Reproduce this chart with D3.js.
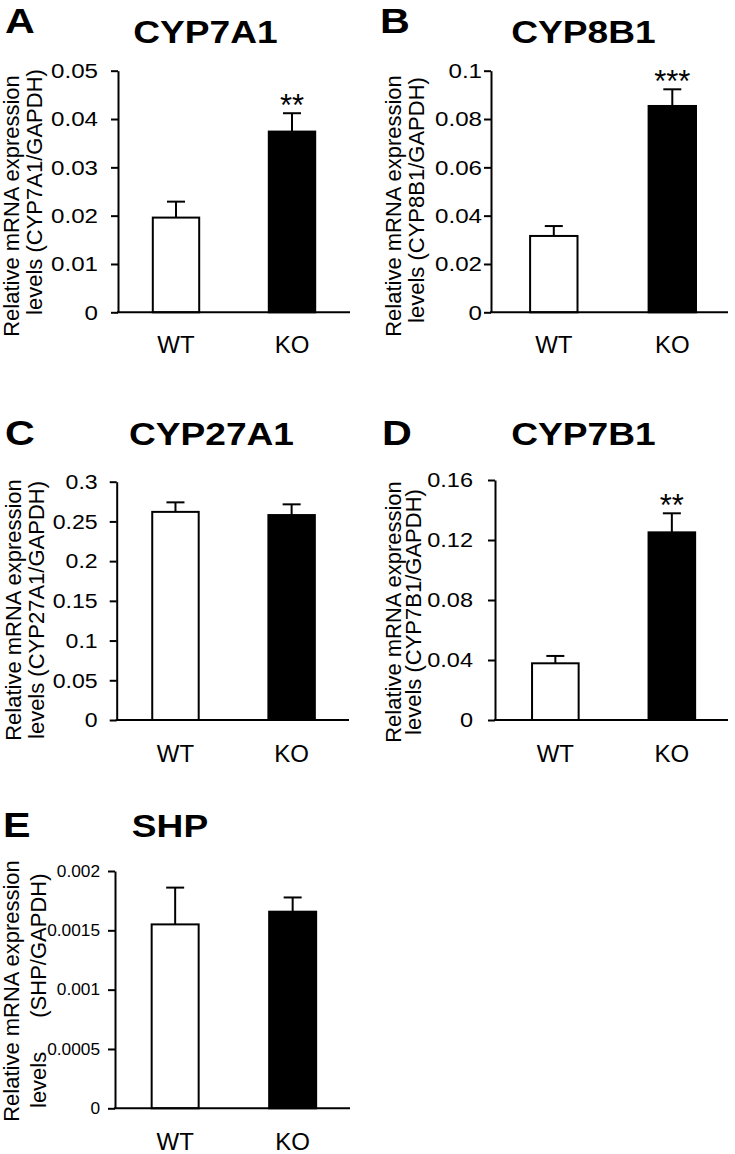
<!DOCTYPE html>
<html><head><meta charset="utf-8">
<script src="https://cdn.jsdelivr.net/npm/d3@7"></script>
<style>
body{margin:0;background:#fff}
svg{display:block}
text{font-family:"Liberation Sans",Arial,Helvetica,sans-serif;fill:#000}
</style>
</head><body>
<svg id="chart" width="735" height="1154"></svg>
<script>
// ---------------- DATA ----------------
const groups = ["WT", "KO"];
const genes = ["CYP7A1", "CYP8B1", "CYP27A1", "CYP7B1", "SHP"];
const panelLetters = ["A", "B", "C", "D", "E"];

const meanCYP7A1 = [0.0196, 0.0374];
const errCYP7A1  = [0.0033, 0.0038];
const sigCYP7A1  = ["", "**"];
const ticksCYP7A1 = [0, 0.01, 0.02, 0.03, 0.04, 0.05];

const meanCYP8B1 = [0.0316, 0.0854];
const errCYP8B1  = [0.0041, 0.0069];
const sigCYP8B1  = ["", "***"];
const ticksCYP8B1 = [0, 0.02, 0.04, 0.06, 0.08, 0.1];

const meanCYP27A1 = [0.262, 0.258];
const errCYP27A1  = [0.012, 0.0135];
const sigCYP27A1  = ["", ""];
const ticksCYP27A1 = [0, 0.05, 0.1, 0.15, 0.2, 0.25, 0.3];

const meanCYP7B1 = [0.0378, 0.1251];
const errCYP7B1  = [0.0049, 0.0127];
const sigCYP7B1  = ["", "**"];
const ticksCYP7B1 = [0, 0.04, 0.08, 0.12, 0.16];

const meanSHP = [0.00155, 0.001657];
const errSHP  = [0.00031, 0.00012];
const sigSHP  = ["", ""];
const ticksSHP = [0, 0.0005, 0.001, 0.0015, 0.002];

const yLabelLine1 = "Relative mRNA expression";
const yLabelLine2 = [
  ["levels (CYP7A1/GAPDH)"],
  ["levels (CYP8B1/GAPDH)"],
  ["levels (CYP27A1/GAPDH)"],
  ["levels (CYP7B1/GAPDH)"],
  ["levels", "(SHP/GAPDH)"]
];

const means = [meanCYP7A1, meanCYP8B1, meanCYP27A1, meanCYP7B1, meanSHP];
const errs  = [errCYP7A1, errCYP8B1, errCYP27A1, errCYP7B1, errSHP];
const sigs  = [sigCYP7A1, sigCYP8B1, sigCYP27A1, sigCYP7B1, sigSHP];
const ticks = [ticksCYP7A1, ticksCYP8B1, ticksCYP27A1, ticksCYP7B1, ticksSHP];

// ---------------- LAYOUT ----------------
const layout = [
  {axisX:118, axisRight:350, yTop:70.7, y0:312.3, align:0.5,  pad:13, tickFont:21, tickSx:1.15,
   letterX:5, letterY:33, titleX:205.5, titleY:43, xLabelY:353,
   yl1:[19,206], yl2:[41.5,192]},
  {axisX:491, axisRight:728, yTop:70.7, y0:312.3, align:0.55, pad:2, tickFont:21, tickSx:1.15,
   letterX:380, letterY:33, titleX:583.5, titleY:43, xLabelY:353,
   yl1:[401,206], yl2:[424,200]},
  {axisX:116.7, axisRight:349, yTop:481.7, y0:720, align:0.51, pad:12, tickFont:21, tickSx:1.1,
   letterX:5, letterY:445, titleX:211.5, titleY:445, xLabelY:762,
   yl1:[21,610], yl2:[44,610]},
  {axisX:495, axisRight:728, yTop:480, y0:720, align:0.53, pad:15, tickFont:21, tickSx:1.12,
   letterX:382, letterY:445, titleX:583.5, titleY:445, xLabelY:762,
   yl1:[401,612], yl2:[421,612]},
  {axisX:115, axisRight:350, yTop:871, y0:1108.3, align:0.52, pad:8, tickFont:16, tickSx:1.08,
   letterX:3, letterY:837, titleX:170, titleY:837, xLabelY:1150,
   yl1:[19,991], yl2:[46,1108], yl2Gap:34}
];

const svg = d3.select("#chart");
const TICK = 7;

genes.forEach((gene, p) => {
  const L = layout[p];
  const g = svg.append("g");
  const tv = ticks[p];
  const y = d3.scaleLinear().domain([0, tv[tv.length - 1]]).range([L.y0, L.yTop]);
  const x = d3.scaleBand().domain(groups).range([L.axisX, L.axisRight])
    .paddingInner(0.6).paddingOuter(0.3).align(L.align);
  const rows = groups.map((grp, i) => ({group: grp, mean: means[p][i], err: errs[p][i], sig: sigs[p][i], i}));

  // panel letter
  g.append("text")
    .attr("transform", `translate(${L.letterX},${L.letterY}) scale(1.18,1)`)
    .attr("font-size", 35).attr("font-weight", "bold").text(panelLetters[p]);
  // title
  g.append("text")
    .attr("transform", `translate(${L.titleX},${L.titleY}) scale(1.16,1)`)
    .attr("text-anchor", "middle").attr("font-size", 32).attr("font-weight", "bold").text(gene);

  // bars
  g.selectAll("rect.bar").data(rows).join("rect").attr("class", "bar")
    .attr("x", d => x(d.group)).attr("y", d => y(d.mean))
    .attr("width", x.bandwidth()).attr("height", d => y(0) - y(d.mean))
    .attr("fill", d => d.i === 0 ? "#fff" : "#000")
    .attr("stroke", "#000").attr("stroke-width", 2);

  // error bars (upper)
  const cx = d => x(d.group) + x.bandwidth() / 2;
  g.selectAll("line.err").data(rows).join("line").attr("class", "err")
    .attr("x1", cx).attr("x2", cx)
    .attr("y1", d => y(d.mean)).attr("y2", d => y(d.mean + d.err))
    .attr("stroke", "#000").attr("stroke-width", 2);
  g.selectAll("line.cap").data(rows).join("line").attr("class", "cap")
    .attr("x1", d => cx(d) - 9).attr("x2", d => cx(d) + 9)
    .attr("y1", d => y(d.mean + d.err)).attr("y2", d => y(d.mean + d.err))
    .attr("stroke", "#000").attr("stroke-width", 2);

  // significance
  g.selectAll("text.sig").data(rows.filter(d => d.sig)).join("text").attr("class", "sig")
    .attr("x", cx).attr("y", d => y(d.mean + d.err) + 3)
    .attr("text-anchor", "middle").attr("font-size", 31).text(d => d.sig);

  // y axis
  const ax = g.append("g").attr("transform", `translate(${L.axisX},0)`)
    .call(d3.axisLeft(y).tickValues(tv).tickSize(TICK).tickSizeOuter(0)
      .tickPadding(L.pad).tickFormat(d => String(d)));
  ax.attr("font-family", null).attr("font-size", null);
  ax.select(".domain").attr("stroke", "#000").attr("stroke-width", 2);
  ax.selectAll(".tick line").attr("stroke", "#000").attr("stroke-width", 2);
  ax.selectAll(".tick text")
    .attr("font-size", L.tickFont).attr("fill", "#000")
    .attr("x", -(TICK + L.pad) / L.tickSx)
    .attr("transform", `scale(${L.tickSx},1)`);

  // x axis line
  g.append("line").attr("x1", L.axisX - 1).attr("x2", L.axisRight)
    .attr("y1", y(0)).attr("y2", y(0)).attr("stroke", "#000").attr("stroke-width", 2);

  // x labels
  g.selectAll("text.xl").data(groups).join("text").attr("class", "xl")
    .attr("x", d => x(d) + x.bandwidth() / 2).attr("y", L.xLabelY)
    .attr("text-anchor", "middle").attr("font-size", 24).text(d => d);

  // y labels
  g.append("text")
    .attr("transform", `translate(${L.yl1[0]},${L.yl1[1]}) rotate(-90)`)
    .attr("text-anchor", "middle").attr("font-size", 22).text(yLabelLine1);
  const parts = yLabelLine2[p];
  if (parts.length === 1) {
    g.append("text")
      .attr("transform", `translate(${L.yl2[0]},${L.yl2[1]}) rotate(-90)`)
      .attr("text-anchor", "middle").attr("font-size", 22).text(parts[0]);
  } else {
    const t = g.append("text")
      .attr("transform", `translate(${L.yl2[0]},${L.yl2[1]}) rotate(-90)`)
      .attr("text-anchor", "start").attr("font-size", 22);
    t.append("tspan").text(parts[0]);
    t.append("tspan").attr("dx", L.yl2Gap).text(parts[1]);
  }
});
</script>
</body></html>
